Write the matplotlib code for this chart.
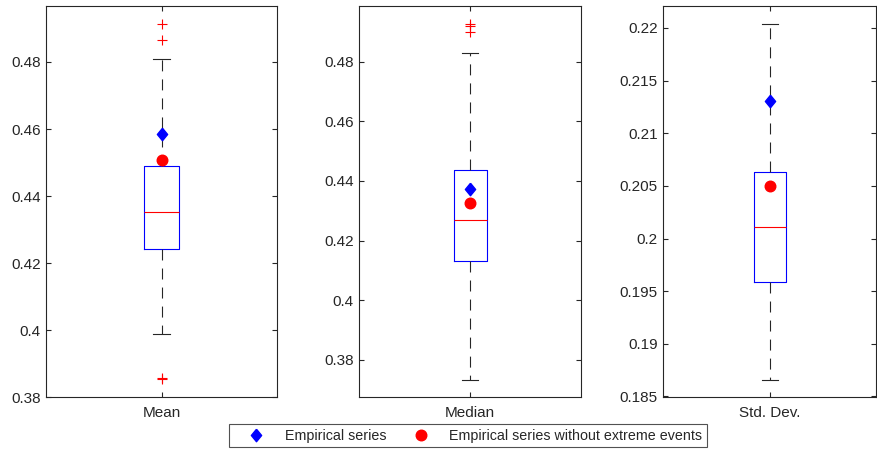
import matplotlib
matplotlib.use("Agg")
import matplotlib.pyplot as plt
from matplotlib.lines import Line2D

plt.rcParams["font.family"] = ["Liberation Sans", "DejaVu Sans"]
plt.rcParams["lines.scale_dashes"] = False

# --------------------------- 数据 -------------------------------
labels = ["Mean", "Median", "Std. Dev."]

q1 = [0.4242, 0.4132, 0.1959]
med = [0.4353, 0.4268, 0.2011]
q3 = [0.4491, 0.4436, 0.2063]
whislo = [0.3990, 0.3734, 0.1866]
whishi = [0.4809, 0.4829, 0.2204]
fliers = [
    [0.4914, 0.4867, 0.3859, 0.3854],
    [0.4927, 0.4921, 0.4900],
    [],
]

empirical = [0.4586, 0.4374, 0.2131]
empirical_no_extreme = [0.4508, 0.4326, 0.2050]

yticks = [
    [0.38, 0.40, 0.42, 0.44, 0.46, 0.48],
    [0.38, 0.40, 0.42, 0.44, 0.46, 0.48],
    [0.185, 0.19, 0.195, 0.20, 0.205, 0.21, 0.215, 0.22],
]

# --------------------------- 样式 -------------------------------
AX_COLOR = "#262626"
DIAMOND = [(0, 1), (0.82, 0), (0, -1), (-0.82, 0), (0, 1)]
axes_pos = [
    [0.053, 0.119, 0.2628, 0.8677],
    [0.4097, 0.119, 0.2528, 0.8677],
    [0.7563, 0.119, 0.2425, 0.8677],
]


def fmt(v):
    s = f"{v:.3f}".rstrip("0").rstrip(".")
    return s


fig = plt.figure(figsize=(8.77, 4.51), dpi=100)

for i, pos in enumerate(axes_pos):
    ax = fig.add_axes(pos)
    stats = [dict(med=med[i], q1=q1[i], q3=q3[i], whislo=whislo[i],
                  whishi=whishi[i], fliers=fliers[i], label=labels[i])]
    ax.bxp(stats, positions=[1], widths=0.15, capwidths=0.075,
           boxprops=dict(color="#0000ff", lw=0.8),
           medianprops=dict(color="#ff0000", lw=0.8),
           whiskerprops=dict(color=AX_COLOR, lw=0.8, linestyle=(0, (7.9, 5.8))),
           capprops=dict(color=AX_COLOR, lw=0.8),
           flierprops=dict(marker="+", markeredgecolor="#ff0000",
                           markersize=6.5, markeredgewidth=0.8))
    ax.plot([1], [empirical[i]], linestyle="none", marker=DIAMOND,
            color="#0000ff", markersize=9, zorder=5)
    ax.plot([1], [empirical_no_extreme[i]], linestyle="none", marker="o",
            color="#ff0000", markersize=7.6, zorder=5)

    # 上下各留 5% 余量
    lo = min([whislo[i]] + fliers[i])
    hi = max([whishi[i]] + fliers[i])
    pad = 0.05 * (hi - lo)
    ax.set_ylim(lo - pad, hi + pad)
    ax.set_xlim(0.5, 1.5)

    ax.set_yticks(yticks[i])
    ax.set_yticklabels([fmt(v) for v in yticks[i]])
    ax.set_xticks([1])
    ax.set_xticklabels([labels[i]])
    ax.tick_params(direction="in", length=3.5, width=0.8, colors=AX_COLOR,
                   labelsize=11, top=True, right=True)
    ax.tick_params(axis="y", pad=4)
    ax.tick_params(axis="x", pad=6)
    for sp in ax.spines.values():
        sp.set_color(AX_COLOR)
        sp.set_linewidth(0.8)

handles = [
    Line2D([], [], linestyle="none", marker=DIAMOND, color="#0000ff", markersize=9),
    Line2D([], [], linestyle="none", marker="o", color="#ff0000", markersize=7.6),
]
leg = fig.legend(handles, ["Empirical series", "Empirical series without extreme events"],
                 loc="center", bbox_to_anchor=(468 / 877, (451 - 435.7) / 451),
                 ncol=2, fontsize=10.3, frameon=True, fancybox=False,
                 handlelength=3.2, handletextpad=0.4, columnspacing=0.8,
                 borderpad=0.32, borderaxespad=0)
leg.get_frame().set_edgecolor(AX_COLOR)
leg.get_frame().set_linewidth(0.8)
for t in leg.get_texts():
    t.set_color(AX_COLOR)

fig.savefig("out.png", dpi=100)
